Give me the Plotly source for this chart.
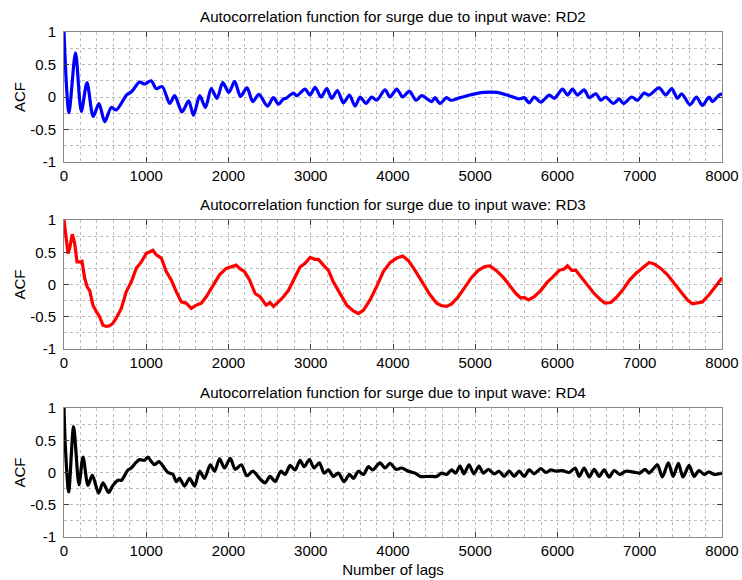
import plotly.graph_objects as go

# ---------------- data ----------------
lags_rd2 = [0, 60, 140, 210, 280, 355, 425, 495, 575, 635, 760, 820, 920, 980, 1060, 1120, 1195, 1285,
            1345, 1435, 1515, 1575, 1650, 1720, 1790, 1860, 1930, 2005, 2075, 2145, 2225, 2295, 2370,
            2473, 2546, 2607, 2668, 2700, 2750, 2790, 2830, 2930, 2992, 3053, 3125, 3195, 3255, 3324,
            3397, 3470, 3539, 3600, 3672, 3741, 3802, 3903, 3964, 4045, 4118, 4199, 4280, 4349, 4470,
            4510, 4571, 4652, 4700, 4814, 4936, 5098, 5260, 5413, 5534, 5595, 5656, 5717, 5798, 5899,
            5960, 6061, 6122, 6182, 6243, 6324, 6385, 6466, 6527, 6587, 6680, 6749, 6802, 6903, 6972,
            7053, 7114, 7235, 7316, 7389, 7458, 7510, 7611, 7689, 7762, 7843, 7883, 7965, 8000]
acf_rd2 = [1.0, -0.24, 0.68, -0.22, 0.22, -0.30, -0.10, -0.38, -0.16, -0.20, 0.03, 0.08, 0.23, 0.20,
           0.25, 0.13, 0.16, -0.10, 0.02, -0.23, -0.06, -0.28, 0.02, -0.16, 0.13, -0.02, 0.22, 0.07,
           0.24, 0.01, 0.14, -0.07, 0.04, -0.14, -0.01, -0.11, -0.03, -0.02, 0.03, 0.06, 0.02, 0.12,
           0.03, 0.15, 0.0, 0.13, -0.02, 0.10, -0.09, 0.03, -0.14, 0.0, -0.10, 0.0, -0.05, 0.11, 0.0,
           0.12, 0.0, 0.09, -0.05, 0.02, -0.07, -0.01, -0.10, -0.01, -0.05, -0.01, 0.03, 0.07, 0.07,
           0.02, -0.03, -0.01, -0.09, 0.0, -0.08, 0.03, -0.02, 0.12, 0.03, 0.12, 0.03, 0.11, -0.01,
           0.05, -0.05, 0.0, -0.10, -0.03, -0.10, 0.0, -0.05, 0.06, 0.03, 0.14, 0.03, 0.13, -0.02,
           0.05, -0.12, 0.0, -0.13, 0.0, -0.07, 0.03, 0.05]

lags_rd3 = [0, 28, 49, 69, 101, 130, 158, 190, 219, 251, 283, 312, 352, 393, 433, 474, 514, 555, 595,
            636, 697, 757, 818, 879, 940, 1000, 1081, 1122, 1183, 1243, 1304, 1365, 1426, 1486, 1547,
            1608, 1669, 1729, 1810, 1891, 1972, 2053, 2094, 2134, 2195, 2256, 2324, 2384, 2457, 2506,
            2546, 2607, 2668, 2729, 2789, 2870, 2931, 2992, 3053, 3093, 3154, 3215, 3275, 3356, 3437,
            3518, 3579, 3640, 3721, 3802, 3883, 3964, 4045, 4118, 4187, 4268, 4349, 4450, 4531, 4592,
            4652, 4713, 4794, 4875, 4956, 5037, 5118, 5179, 5260, 5341, 5413, 5494, 5555, 5595, 5648,
            5717, 5798, 5879, 5939, 6020, 6081, 6122, 6174, 6223, 6284, 6365, 6446, 6527, 6579, 6648,
            6709, 6790, 6871, 6952, 7033, 7114, 7175, 7256, 7337, 7418, 7499, 7580, 7641, 7701, 7762,
            7843, 7924, 8000]
acf_rd3 = [1.0, 0.74, 0.48, 0.56, 0.78, 0.64, 0.35, 0.35, 0.36, 0.10, -0.04, -0.09, -0.32, -0.42,
           -0.50, -0.63, -0.65, -0.64, -0.60, -0.52, -0.37, -0.11, 0.04, 0.25, 0.35, 0.48, 0.53, 0.46,
           0.41, 0.20, 0.07, -0.11, -0.27, -0.29, -0.37, -0.32, -0.29, -0.19, -0.01, 0.15, 0.25, 0.29,
           0.30, 0.25, 0.20, 0.07, -0.14, -0.19, -0.32, -0.28, -0.34, -0.27, -0.19, -0.09, 0.07, 0.27,
           0.33, 0.42, 0.39, 0.39, 0.30, 0.22, 0.04, -0.14, -0.32, -0.41, -0.45, -0.40, -0.24, -0.03,
           0.20, 0.34, 0.41, 0.44, 0.37, 0.22, 0.04, -0.16, -0.29, -0.33, -0.34, -0.30, -0.19, -0.03,
           0.11, 0.22, 0.28, 0.29, 0.21, 0.11, -0.01, -0.14, -0.21, -0.20, -0.24, -0.19, -0.09, 0.04,
           0.11, 0.22, 0.24, 0.29, 0.22, 0.22, 0.12, -0.01, -0.14, -0.24, -0.29, -0.28, -0.21, -0.09,
           0.06, 0.17, 0.26, 0.34, 0.32, 0.25, 0.15, 0.02, -0.11, -0.24, -0.30, -0.29, -0.27, -0.16,
           -0.03, 0.10]

lags_rd4 = [0, 16, 57, 117, 182, 231, 292, 344, 421, 474, 543, 595, 656, 700, 778, 818, 879, 919, 980,
            1021, 1061, 1102, 1154, 1203, 1264, 1324, 1365, 1405, 1466, 1527, 1588, 1648, 1709, 1778,
            1831, 1891, 1952, 2021, 2082, 2155, 2223, 2296, 2384, 2445, 2506, 2567, 2636, 2688, 2749,
            2810, 2870, 2919, 2984, 3040, 3105, 3162, 3215, 3275, 3336, 3405, 3470, 3518, 3579, 3640,
            3701, 3753, 3842, 3903, 3964, 4037, 4106, 4187, 4268, 4328, 4450, 4531, 4592, 4652, 4713,
            4762, 4814, 4863, 4924, 4984, 5045, 5098, 5159, 5231, 5291, 5352, 5413, 5474, 5534, 5595,
            5656, 5717, 5798, 5858, 5919, 5980, 6061, 6142, 6215, 6263, 6324, 6385, 6446, 6506, 6567,
            6628, 6689, 6757, 6830, 6952, 7000, 7065, 7113, 7154, 7215, 7275, 7348, 7405, 7470, 7526,
            7600, 7660, 7720, 7782, 7842, 7903, 8000]
acf_rd4 = [1.0, 0.41, -0.30, 0.71, -0.19, 0.24, -0.20, -0.04, -0.32, -0.16, -0.31, -0.20, -0.12,
           -0.12, 0.04, 0.07, 0.16, 0.20, 0.19, 0.24, 0.17, 0.12, 0.17, 0.10, 0.0, -0.03, -0.14, -0.09,
           -0.21, -0.09, -0.21, 0.02, -0.09, 0.12, 0.02, 0.21, 0.07, 0.22, 0.05, 0.12, -0.05, 0.02,
           -0.10, -0.16, -0.06, -0.14, 0.02, -0.03, 0.11, 0.04, 0.19, 0.09, 0.20, 0.07, 0.15, -0.01,
           0.04, -0.06, -0.01, -0.14, -0.03, -0.09, 0.02, -0.03, 0.09, 0.04, 0.15, 0.07, 0.14, 0.05,
           0.07, 0.02, -0.01, -0.06, -0.06, -0.06, -0.01, -0.03, 0.04, -0.01, 0.10, -0.02, 0.12, -0.02,
           0.10, -0.01, 0.05, -0.02, 0.02, -0.06, 0.02, -0.06, 0.02, -0.06, 0.04, -0.02, 0.06, 0.0,
           0.04, 0.02, 0.03, 0.0, 0.07, -0.06, 0.07, -0.07, 0.05, -0.06, 0.04, -0.07, 0.03, -0.03,
           0.02, 0.0, -0.01, 0.05, -0.01, 0.04, 0.12, -0.07, 0.15, -0.06, 0.14, -0.07, 0.11, -0.06,
           0.03, -0.03, 0.01, -0.03, -0.01]

series_names = ["RD2", "RD3", "RD4"]
title_prefix = "Autocorrelation function for surge due to input wave: "
x_tick_vals = [0, 1000, 2000, 3000, 4000, 5000, 6000, 7000, 8000]
x_tick_text = ["0", "1000", "2000", "3000", "4000", "5000", "6000", "7000", "8000"]
y_tick_vals = [-1, -0.5, 0, 0.5, 1]
y_tick_text = ["-1", "-0.5", "0", "0.5", "1"]
y_label = "ACF"
x_label = "Number of lags"

# ---------------- figure ----------------
W, H = 742, 580
FONT = "Liberation Sans, Arial, Helvetica, sans-serif"
colors = ["#0000ff", "#ff0000", "#000000"]
shapes = ["spline", "linear", "spline"]
data = [(lags_rd2, acf_rd2), (lags_rd3, acf_rd3), (lags_rd4, acf_rd4)]
# panel pixel extents (top, bottom) in the 580-px-high page
panels_px = [(32, 162), (220, 349), (408, 537)]

fig = go.Figure()
layout = dict(
    width=W, height=H,
    margin=dict(l=64, r=20, t=0, b=0, autoexpand=False),
    paper_bgcolor="white", plot_bgcolor="white",
    showlegend=False,
    font=dict(family=FONT, size=15, color="black"),
    annotations=[],
)

grid_col = "#bcbcbc"
for i, ((xs, ys), col, shp) in enumerate(zip(data, colors, shapes)):
    n = "" if i == 0 else str(i + 1)
    top, bot = panels_px[i]
    dom = [1 - bot / H, 1 - top / H]
    fig.add_trace(go.Scatter(
        x=xs, y=ys, mode="lines", xaxis="x" + n, yaxis="y" + n,
        line=dict(color=col, width=3.2, shape=shp, smoothing=0.8 if shp == "spline" else None),
        name=series_names[i], hoverinfo="skip"))
    common = dict(
        showline=True, linecolor="#8a8a8a", linewidth=1, mirror="allticks",
        ticks="inside", ticklen=5, tickcolor="#3a3a3a", tickwidth=1,
        showgrid=True, gridcolor=grid_col, griddash="dot", gridwidth=1,
        zeroline=False, automargin=False,
        tickfont=dict(family=FONT, size=15, color="black"),
    )
    layout["xaxis" + n] = dict(
        common, domain=[0, 1], range=[0, 8000], anchor="y" + n,
        tickmode="array", tickvals=x_tick_vals, ticktext=x_tick_text,
        minor=dict(dtick=200, tick0=0, showgrid=True, gridcolor=grid_col, griddash="dot",
                   gridwidth=1, ticks=""),
        ticklabelstandoff=0,
    )
    layout["yaxis" + n] = dict(
        common, domain=dom, range=[-1, 1], anchor="x" + n,
        tickmode="array", tickvals=y_tick_vals, ticktext=y_tick_text,
        minor=dict(dtick=0.25, tick0=0, showgrid=True, gridcolor=grid_col, griddash="dot",
                   gridwidth=1, ticks=""),
        title=dict(text=y_label, standoff=0, font=dict(family=FONT, size=15)),
        ticklabelstandoff=4,
    )
    layout["annotations"].append(dict(
        text=title_prefix + series_names[i], xref="paper", yref="paper",
        x=0.5, y=dom[1], xanchor="center", yanchor="middle", yshift=16,
        showarrow=False, font=dict(family=FONT, size=15.2, color="black")))
    if i == 2:
        layout["xaxis" + n]["title"] = dict(text=x_label, standoff=6,
                                            font=dict(family=FONT, size=15))

fig.update_layout(**layout)
fig.write_html("out.html")
